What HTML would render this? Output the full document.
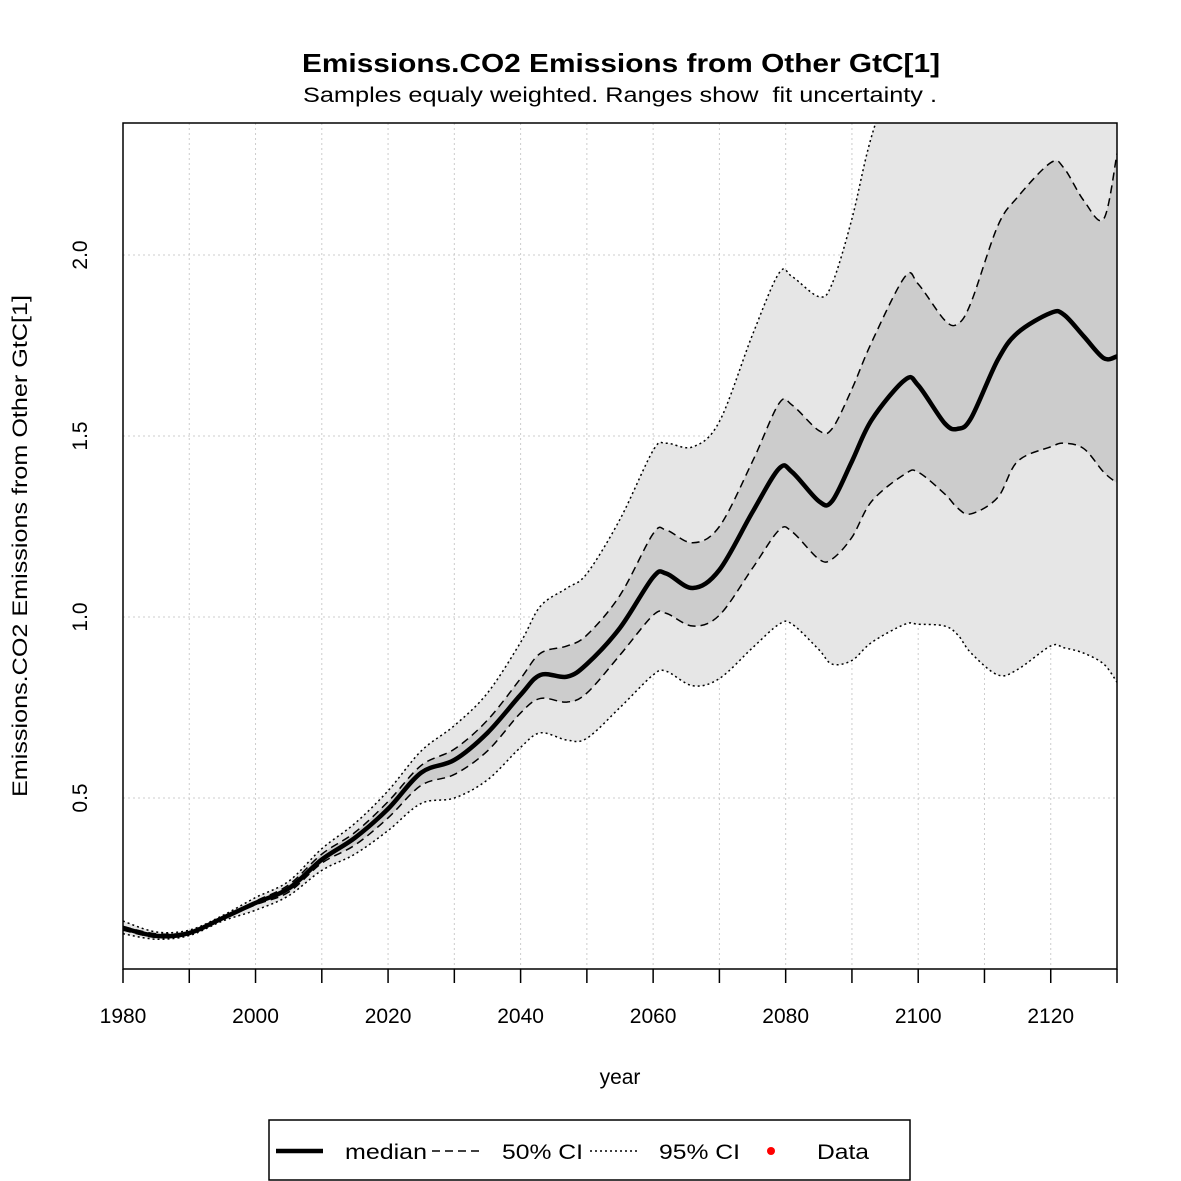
<!DOCTYPE html>
<html><head><meta charset="utf-8">
<style>
html,body{margin:0;padding:0;background:#fff;}
svg{display:block;font-family:"Liberation Sans","DejaVu Sans",sans-serif;}
</style></head>
<body>
<svg id="chart" width="1181" height="1181" viewBox="0 0 1181 1181">
<text x="302" y="72" font-size="26" font-weight="bold" textLength="638" lengthAdjust="spacingAndGlyphs">Emissions.CO2 Emissions from Other GtC[1]</text>
<text x="303" y="102" font-size="21" xml:space="preserve" textLength="634" lengthAdjust="spacingAndGlyphs">Samples equaly weighted. Ranges show  fit uncertainty .</text>
<defs><clipPath id="pc"><rect x="123" y="123" width="994" height="846"/></clipPath></defs>
<g id="grid"></g>
<g id="bands" clip-path="url(#pc)"></g>
<g id="lines" clip-path="url(#pc)"></g>
<rect x="123" y="123" width="994" height="846" fill="none" stroke="#000" stroke-width="1.5"/>
<g id="axes"></g>
<text x="620" y="1084" text-anchor="middle" font-size="21">year</text>
<text transform="translate(27,546) rotate(-90)" text-anchor="middle" font-size="21" textLength="502" lengthAdjust="spacingAndGlyphs">Emissions.CO2 Emissions from Other GtC[1]</text>
<g>
<rect x="269" y="1120" width="641" height="60" fill="#fff" stroke="#000" stroke-width="1.5"/>
<line x1="276" y1="1151" x2="323" y2="1151" stroke="#000" stroke-width="4.5"/>
<text x="345" y="1159" font-size="21" textLength="82" lengthAdjust="spacingAndGlyphs">median</text>
<line x1="432" y1="1151" x2="479" y2="1151" stroke="#000" stroke-width="1.5" stroke-dasharray="8,5"/>
<text x="502" y="1159" font-size="21" textLength="81" lengthAdjust="spacingAndGlyphs">50% CI</text>
<line x1="590" y1="1151" x2="637" y2="1151" stroke="#000" stroke-width="1.5" stroke-dasharray="2,3"/>
<text x="659" y="1159" font-size="21" textLength="81" lengthAdjust="spacingAndGlyphs">95% CI</text>
<circle cx="771" cy="1151" r="4" fill="#f00"/>
<text x="817" y="1159" font-size="21" textLength="52" lengthAdjust="spacingAndGlyphs">Data</text>
</g>
</svg>
<script>
const years=[1980,1985,1990,1995,2000,2005,2010,2015,2020,2025,2030,2035,2040,2043,2047,2050,2055,2060,2062,2066,2070,2075,2079,2081,2085,2087,2090,2093,2098,2100,2104,2106,2108,2112,2115,2120,2122,2125,2128,2130];
const median=[.141,.119,.127,.168,.21,.25,.33,.39,.47,.57,.605,.68,.785,.84,.835,.87,.97,1.11,1.12,1.08,1.13,1.29,1.41,1.40,1.32,1.32,1.43,1.545,1.655,1.64,1.535,1.52,1.55,1.71,1.785,1.84,1.835,1.775,1.715,1.72];
const upper50=[.145,.125,.13,.17,.215,.26,.345,.405,.49,.59,.635,.715,.83,.90,.92,.95,1.06,1.23,1.24,1.205,1.25,1.43,1.59,1.585,1.515,1.52,1.63,1.76,1.94,1.92,1.82,1.81,1.87,2.08,2.16,2.255,2.24,2.15,2.10,2.28];
const lower50=[.135,.115,.123,.165,.205,.24,.32,.37,.445,.535,.565,.63,.735,.775,.765,.79,.895,1.005,1.01,.975,1.005,1.135,1.24,1.235,1.16,1.16,1.22,1.32,1.395,1.40,1.34,1.30,1.285,1.33,1.43,1.47,1.48,1.465,1.40,1.37];
const upper95=[.16,.13,.135,.175,.225,.27,.36,.43,.52,.63,.70,.79,.93,1.03,1.08,1.12,1.27,1.46,1.48,1.47,1.54,1.78,1.95,1.94,1.885,1.92,2.10,2.33,2.6,2.7,2.8,2.85,2.9,3.0,3.1,3.2,3.2,3.2,3.2,3.3];
const lower95=[.125,.11,.12,.16,.19,.23,.30,.345,.41,.485,.50,.55,.64,.68,.66,.665,.75,.84,.85,.81,.83,.915,.98,.98,.91,.87,.88,.93,.98,.98,.975,.95,.90,.84,.855,.92,.915,.90,.87,.82];
const xTicks=[1980,1990,2000,2010,2020,2030,2040,2050,2060,2070,2080,2090,2100,2110,2120,2130];
const xLabels=[1980,2000,2020,2040,2060,2080,2100,2120];
const yTicks=[0.5,1.0,1.5,2.0];

const NS="http://www.w3.org/2000/svg";
const X=y=>123+(y-1980)*994/150;
const Y=v=>798-(v-0.5)*362;
function mk(tag,attrs,parent){const e=document.createElementNS(NS,tag);for(const k in attrs)e.setAttribute(k,attrs[k]);parent.appendChild(e);return e;}
function pts(vals){return years.map((yr,i)=>[X(yr),Y(vals[i])]);}
function smooth(p,move){let d=move?`M${p[0][0]},${p[0][1]}`:`L${p[0][0]},${p[0][1]}`;
 for(let i=0;i<p.length-1;i++){const p0=p[i-1]||p[i],p1=p[i],p2=p[i+1],p3=p[i+2]||p2;
  d+=`C${p1[0]+(p2[0]-p0[0])/6},${p1[1]+(p2[1]-p0[1])/6} ${p2[0]-(p3[0]-p1[0])/6},${p2[1]-(p3[1]-p1[1])/6} ${p2[0]},${p2[1]}`;}return d;}
const grid=document.getElementById('grid'),bands=document.getElementById('bands'),lines=document.getElementById('lines'),axes=document.getElementById('axes');
xTicks.forEach(t=>{const l=mk('line',{x1:X(t),x2:X(t),y1:123,y2:969,stroke:'#ccc','stroke-dasharray':'2,3'},grid);


const k=mk('line',{x1:X(t),x2:X(t),y1:969,y2:983,stroke:'#000','stroke-width':1.5},axes);

});
xLabels.forEach(t=>{const s=mk('text',{x:X(t),y:1023,'text-anchor':'middle','font-size':21},axes);s.textContent=t;

});
yTicks.forEach(t=>{const l=mk('line',{x1:123,x2:1117,y1:Y(t),y2:Y(t),stroke:'#ccc','stroke-dasharray':'2,3'},grid);


const s=mk('text',{transform:`translate(87,${Y(t)}) rotate(-90)`,'text-anchor':'middle','font-size':21},axes);s.textContent=t.toFixed(1);

});
function band(up,lo,fill,name){const a=pts(up),b=pts(lo).reverse();const p=mk('path',{d:smooth(a,true)+smooth(b,false)+'Z',fill:fill},bands);

}
band(upper95,lower95,'#e6e6e6','band-95ci');
band(upper50,lower50,'#cccccc','band-50ci');
function line(vals,w,dash,name){const p=mk('path',{d:smooth(pts(vals),true),fill:'none',stroke:'#000','stroke-width':w},lines);if(dash)p.setAttribute('stroke-dasharray',dash);

}
line(upper95,1.5,'2,3','upper-95ci-line');
line(lower95,1.5,'2,3','lower-95ci-line');
line(upper50,1.5,'8,5','upper-50ci-line');
line(lower50,1.5,'8,5','lower-50ci-line');
line(median,4.5,null,'median-line');
</script>
</body></html>
